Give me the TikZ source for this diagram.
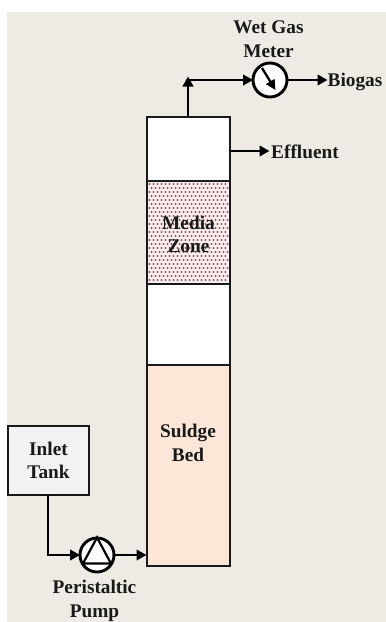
\documentclass[tikz,border=0pt]{standalone}
\usepackage{fontspec}
\setmainfont{Liberation Serif}
\usetikzlibrary{arrows.meta}
\definecolor{bgc}{HTML}{EDEBE3}
\definecolor{bedc}{HTML}{FCE6D8}
\definecolor{tankc}{HTML}{F2F2F2}
\definecolor{dotc}{HTML}{A02828}
\tikzset{
  lbl/.style={font=\bfseries\fontsize{19.3}{23.5}\selectfont,align=center,text=black!90,inner sep=0pt},
  sect/.style={draw=black!90,line width=2.8pt,minimum width=83pt,inner sep=0pt,outer sep=0pt,anchor=north west},
  flow/.style={line width=2.8pt,draw=black,-{Triangle[length=10pt,width=10.5pt]}},
  plainflow/.style={line width=2.8pt,draw=black},
  dial/.style={circle,draw=black,fill=white,line width=2.9pt,minimum size=34pt,inner sep=0pt,outer sep=0pt}
}
\begin{document}
\begin{tikzpicture}[x=1pt,y=-1pt]
\useasboundingbox (0,0) rectangle (386,622);
\fill[white] (0,0) rectangle (386,622);
\fill[bgc] (7,12) rectangle (386,622);
% column
\node[sect,fill=white,minimum height=64pt] (top) at (147,117) {};
\node[sect,fill=dotc!7,minimum height=103pt] (media) at (147,181) {};
\foreach \r in {0,...,24}{
  \foreach \c in {0,...,20}{
    \pgfmathsetmacro{\px}{149.5+\c*4+mod(\r,2)*2}
    \pgfmathsetmacro{\py}{184+\r*4}
    \ifdim\px pt<228.5pt
      \fill[dotc!85] (\px,\py) circle (1.1pt);
    \fi
  }
}
\node[sect,fill=white,minimum height=81pt] (mid) at (147,284) {};
\node[sect,fill=bedc,minimum height=201pt] (bed) at (147,365) {};
\draw[black!90,line width=2.8pt] (media.north west) -- (media.north east);
\node[lbl] (medialbl) at (188.5,234.5) {Media\\Zone};
\node[lbl] (bedlbl) at (188,443) {Suldge\\Bed};
% tank
\node[draw=black!90,fill=tankc,line width=2.9pt,minimum width=81pt,minimum height=69pt,inner sep=0pt,outer sep=0pt,anchor=north west] (tank) at (8,426) {};
\node[lbl] (tanklbl) at (48.5,460.5) {Inlet\\Tank};
% meter
\node[dial] (meter) at (270,80) {};
\coordinate (needlestart) at (262,68);
\coordinate (needleend) at (275.5,90);
\draw[line width=2.3pt,-{Triangle[length=10pt,width=9.5pt]}] (needlestart) -- (needleend);
% pump
\node[dial] (pump) at (97,555) {};
\coordinate (triA) at (97,537.5);
\coordinate (triB) at (83,563.5);
\coordinate (triC) at (111,563.5);
\draw[line width=2.2pt,line join=miter] (triA) -- (triB) -- (triC) -- cycle;
% connectors
\coordinate (elbow) at (188,80);
\coordinate (topout) at (188,116);
\draw[flow] (elbow) ++(-1.4,0) -- (meter.west);
\draw[flow] (topout) -- (188,76.5);
\coordinate (biogasend) at (327.5,80);
\draw[flow] (meter.east) -- (biogasend);
\coordinate (effout) at (230,151);
\coordinate (effend) at (269.5,151);
\draw[flow] (effout) -- (effend);
\coordinate (tankdown) at (48,555);
\draw[plainflow] (48,495) -- (tankdown);
\draw[flow] (46.6,555) -- (pump.west);
\draw[flow] (pump.east) -- (146.5,555);
% labels
\node[lbl] (wet) at (268.5,39) {Wet Gas\\Meter};
\node[lbl,anchor=west] (biogas) at (327.5,81.5) {Biogas};
\node[lbl,anchor=west] (eff) at (271,152) {Effluent};
\node[lbl] (peri) at (94.5,601) {Peristaltic\\Pump};
\end{tikzpicture}
\end{document}
